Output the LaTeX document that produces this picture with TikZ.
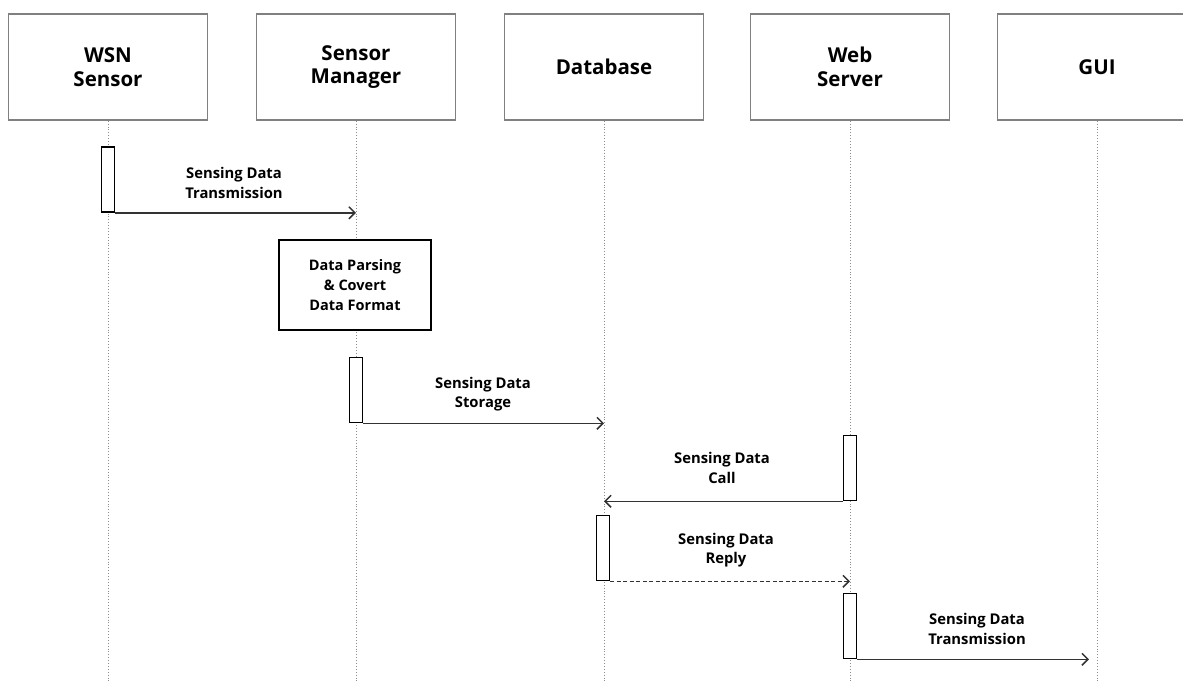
\documentclass[tikz,border=0pt]{standalone}
\usepackage{fontspec}
\setmainfont{Open Sans}
\usetikzlibrary{arrows.meta}
\begin{document}
\begin{tikzpicture}[x=1pt,y=-1pt,
  actor/.style={draw=black!50, line width=1.5pt, fill=white, minimum width=199pt,
    minimum height=106pt, inner sep=0pt, align=center,
    font=\bfseries\fontsize{20.5}{23.5}\selectfont},
  life/.style={draw=black!45, dotted, line width=0.9pt},
  bar/.style={draw=black, line width=1.6pt, fill=white, minimum width=13pt,
    minimum height=65pt, inner sep=0pt},
  procbox/.style={draw=black, line width=1.6pt, fill=white, minimum width=152pt,
    minimum height=90pt, inner sep=0pt, align=center,
    font=\bfseries\fontsize{14.5}{20}\selectfont},
  msg/.style={draw=black!80, line width=1.5pt, -{Straight Barb[length=6pt,width=12pt,line width=1.5pt]}},
  lbl/.style={align=center, inner sep=0pt, font=\bfseries\fontsize{14.8}{19.5}\selectfont}]
\useasboundingbox (0,0) rectangle (1183,683);

% participants
\node[actor] (wsn) at (108,67) {WSN\\Sensor};
\node[actor] (mgr) at (356,67) {Sensor\\Manager};
\node[actor] (db)  at (604,67) {Database};
\node[actor] (web) at (850,67) {Web\\Server};
\node[actor] (gui) at (1097,67) {GUI};

% lifeline ends
\coordinate (ewsn) at (108,683);
\coordinate (emgr) at (356,683);
\coordinate (edb)  at (604,683);
\coordinate (eweb) at (850,683);
\coordinate (egui) at (1097,683);

\draw[life] (wsn.south) -- (ewsn);
\draw[life] (mgr.south) -- (emgr);
\draw[life] (db.south)  -- (edb);
\draw[life] (web.south) -- (eweb);
\draw[life] (gui.south) -- (egui);

% processing step in the sensor manager
\node[procbox] (parse) at (355,285) {Data Parsing\\\& Covert\\Data Format};

% activation bars
\node[bar] (act1) at (108,179.5) {};
\node[bar] (act2) at (356,390) {};
\node[bar] (act3) at (850,468) {};
\node[bar] (act4) at (603,548) {};
\node[bar] (act5) at (850,626) {};

% messages
\draw[msg] (act1.south east) -- (act1.south east -| emgr);
\draw[msg] (act2.south east) -- (act2.south east -| edb);
\draw[msg] (act3.south west) -- (act3.south west -| edb);
\draw[msg, dashed, dash pattern=on 4pt off 2.5pt] (act4.south east) -- (act4.south east -| eweb);
\draw[msg] (act5.south east) -- ([xshift=-8pt]act5.south east -| egui);

% message labels
\node[lbl] (l1) at (234,183) {Sensing Data\\Transmission};
\node[lbl] (l2) at (483,394) {Sensing Data\\Storage};
\node[lbl] (l3) at (722,468) {Sensing Data\\Call};
\node[lbl] (l4) at (726,550) {Sensing Data\\Reply};
\node[lbl] (l5) at (977,629) {Sensing Data\\Transmission};
\end{tikzpicture}
\end{document}
